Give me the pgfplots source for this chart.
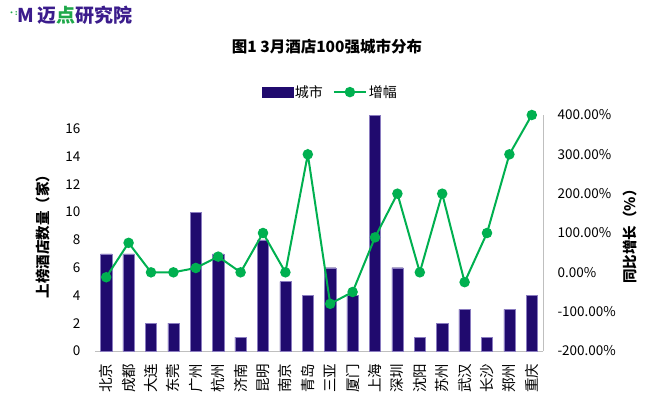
\documentclass[border=0pt]{standalone}
\usepackage{pgfplots}
\pgfplotsset{compat=1.18}
\usepackage{fontspec}
\setmainfont{Noto Sans CJK SC}
\definecolor{barc}{HTML}{200A6E}
\definecolor{baredge}{HTML}{8A7CC0}
\definecolor{linec}{HTML}{00B050}
\definecolor{axc}{HTML}{BFBFBF}
\definecolor{logop}{HTML}{3B1C8C}
\definecolor{logog}{HTML}{1FA84A}

\pgfplotsset{
  barlegend/.style={legend image code/.code={\draw[##1] (0bp,-5bp) rectangle (31bp,5bp);}},
  linelegend/.style={legend image code/.code={\draw[##1, mark repeat=2, mark phase=2] plot coordinates {(0bp,0bp)(16bp,0bp)(32bp,0bp)};}},
}

\pgfplotstableread{
x bars growth
0 7 -12.5
1 7 75
2 2 0
3 2 0
4 10 11.1
5 7 40
6 1 0
7 8 100
8 5 0
9 4 300
10 6 -80
11 4 -50
12 17 88.9
13 6 200
14 1 0
15 2 200
16 3 -25
17 1 100
18 3 300
19 4 400
}\datatable

\begin{document}
\begin{tikzpicture}[x=1bp,y=1bp]
\path[use as bounding box] (0,0) rectangle (650,410);
\node[anchor=west, inner sep=0pt] at (8,395) {\fontsize{19bp}{21bp}\selectfont\bfseries
  {\color{logog}\raisebox{7bp}{\fontsize{7bp}{7bp}\selectfont ·:}}{\color{logop}M}\,{\color{logop}迈}{\color{logog}点}{\color{logop}研究院}};
\node[anchor=center] at (327,363) {\fontsize{15.5bp}{18bp}\selectfont\bfseries 图1 3月酒店100强城市分布};

\begin{axis}[
  at={(95bp,59bp)}, anchor=south west,
  scale only axis, width=448bp, height=236bp,
  xmin=-0.5, xmax=19.5, ymin=0, ymax=17,
  axis x line*=bottom, axis y line*=left,
  y axis line style={draw=none},
  x axis line style={draw=axc, line width=1bp},
  /pgf/number format/assume math mode=true,
  tick label style={font=\fontsize{13.5bp}{15bp}\selectfont},
  xtick={0,...,19},
  xticklabels={北京,成都,大连,东莞,广州,杭州,济南,昆明,南京,青岛,三亚,厦门,上海,深圳,沈阳,苏州,武汉,长沙,郑州,重庆},
  xticklabel style={rotate=90, anchor=east, xshift=-9bp, font=\fontsize{14.5bp}{16bp}\selectfont},
  ytick={0,2,...,16},
  yticklabel style={xshift=-11bp},
  major tick length=0pt,
  ylabel={\bfseries 上榜酒店数量（家）},
  ylabel style={at={(axis description cs:-0.116,0.5)}, anchor=center, font=\fontsize{14.5bp}{16bp}\selectfont},
  clip=false,
]
\addplot[ybar, bar width=11.3bp, bar shift=0pt, fill=barc, draw=baredge, line width=0.4bp] table[x=x, y=bars] {\datatable};
\end{axis}

\begin{axis}[
  at={(95bp,59bp)}, anchor=south west,
  scale only axis, width=448bp, height=236bp,
  xmin=-0.5, xmax=19.5, ymin=-200, ymax=400,
  axis x line=none, axis y line*=right,
  y axis line style={draw=axc, line width=1bp},
  tick label style={font=\fontsize{13.5bp}{15bp}\selectfont},
  ytick={-200,-100,...,400},
  yticklabels={-200.00\%,-100.00\%,0.00\%,100.00\%,200.00\%,300.00\%,400.00\%},
  yticklabel style={anchor=west, xshift=11bp},
  major tick length=0pt,
  legend style={draw=none, fill=none, legend columns=2, at={(0.525,1.097)}, anchor=center,
    font=\fontsize{14bp}{16bp}\selectfont,
    /tikz/every even column/.append style={column sep=8bp}},
  clip=false,
]
\addlegendimage{fill=barc, draw=barc, barlegend}
\addlegendentry{城市}
\addplot[color=linec, line width=2bp, mark=*, mark size=4.2bp, mark options={fill=linec, draw=linec}, linelegend]
  table[x=x, y=growth] {\datatable};
\addlegendentry{增幅}
\node[rotate=90, anchor=center, font=\fontsize{14.5bp}{16bp}\selectfont] at (rel axis cs:1.194,0.5) {\bfseries 同比增长（\%）};
\end{axis}
\end{tikzpicture}
\end{document}
